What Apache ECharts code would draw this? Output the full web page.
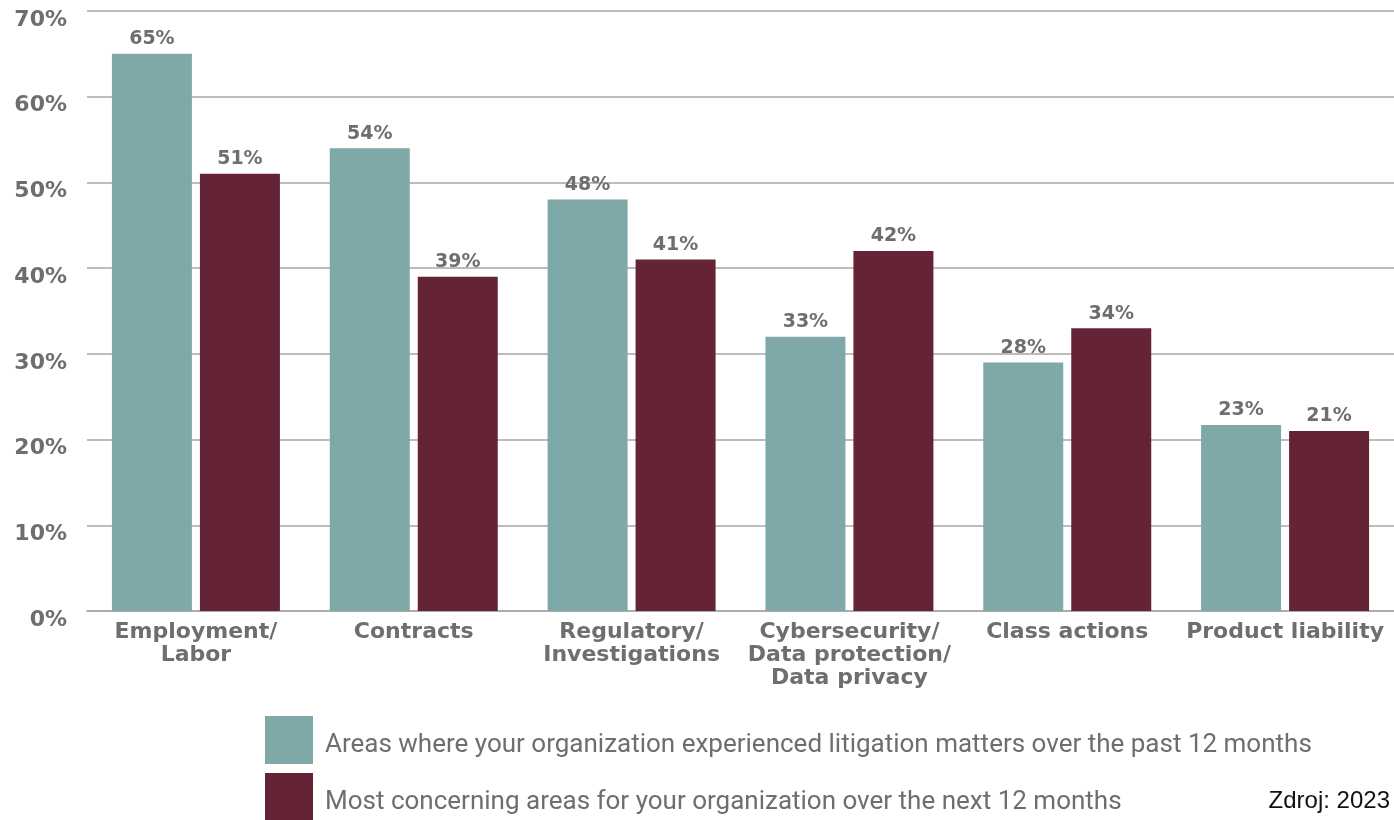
<!DOCTYPE html>
<html>
<head>
<meta charset="utf-8">
<script src="https://cdn.jsdelivr.net/npm/echarts@6/dist/echarts.min.js"></script>
<style>
html,body{margin:0;padding:0;background:#fff;}
#chart{width:1394px;height:820px;}
</style>
</head>
<body>
<div id="chart"></div>
<script>
const categories = ["Employment/\nLabor", "Contracts", "Regulatory/\nInvestigations", "Cybersecurity/\nData protection/\nData privacy", "Class actions", "Product liability"];
const seriesNames = ["Areas where your organization experienced litigation matters over the past 12 months", "Most concerning areas for your organization over the next 12 months"];
// bar heights as drawn in the picture
const pastValues = [65, 54, 48, 32, 29, 21.7];
const nextValues = [51, 39, 41, 42, 33, 21];
// printed data labels
const pastLabels = ["65%", "54%", "48%", "33%", "28%", "23%"];
const nextLabels = ["51%", "39%", "41%", "42%", "34%", "21%"];
const yTicks = [0, 10, 20, 30, 40, 50, 60, 70];
const sourceText = "Zdroj: 2023";

const textGrey = '#6e6e6e';
const boldFont = '"DejaVu Sans"';
const colors = ['#7fa9a8', '#652336'];
const chart = echarts.init(document.getElementById('chart'));
const labelStyle = (labels) => ({
  show: true,
  position: 'top',
  distance: 5,
  color: textGrey,
  fontFamily: boldFont,
  fontWeight: 'bold',
  fontSize: 19,
  formatter: p => labels[p.dataIndex]
});
const legendText = {
  color: textGrey,
  fontFamily: 'Roboto',
  fontSize: 26,
  rich: {
    t: {
      color: textGrey,
      fontFamily: 'Roboto',
      fontSize: 26,
      padding: [10, 0, 0, 7]
    }
  }
};
const legendFormatter = name => '{t|' + name + '}';
chart.setOption({
  animation: false,
  grid: {left: 87, right: -3, top: 11, bottom: 209, containLabel: false},
  xAxis: {
    type: 'category',
    data: categories,
    axisLine: {lineStyle: {color: '#a6a6a6', width: 1.5}},
    axisTick: {show: false},
    axisLabel: {
      margin: 10,
      color: textGrey,
      fontFamily: boldFont,
      fontWeight: 'bold',
      fontSize: 22,
      lineHeight: 23,
      interval: 0
    }
  },
  yAxis: {
    type: 'value',
    min: yTicks[0],
    max: yTicks[yTicks.length - 1],
    interval: 10,
    axisLine: {show: false},
    axisTick: {show: false},
    splitLine: {lineStyle: {color: '#a6a6a6', width: 1.5}},
    axisLabel: {
      margin: 20,
      verticalAlign: 'top',
      lineHeight: 18,
      color: textGrey,
      fontFamily: boldFont,
      fontWeight: 'bold',
      fontSize: 22,
      formatter: v => v + '%'
    }
  },
  legend: [
    {
      left: 265, top: 716, padding: 0,
      itemWidth: 48, itemHeight: 48,
      icon: 'rect',
      data: [seriesNames[0]],
      formatter: legendFormatter,
      textStyle: legendText
    },
    {
      left: 265, top: 773, padding: 0,
      itemWidth: 48, itemHeight: 48,
      icon: 'rect',
      data: [seriesNames[1]],
      formatter: legendFormatter,
      textStyle: legendText
    }
  ],
  graphic: [{
    type: 'text',
    right: 4,
    top: 789,
    style: {text: sourceText, fill: '#111', font: '24px "Liberation Sans"'}
  }],
  series: [
    {
      name: seriesNames[0],
      type: 'bar',
      data: pastValues,
      barWidth: 80,
      barGap: '10%',
      itemStyle: {color: colors[0]},
      label: labelStyle(pastLabels)
    },
    {
      name: seriesNames[1],
      type: 'bar',
      data: nextValues,
      barWidth: 80,
      barGap: '10%',
      itemStyle: {color: colors[1]},
      label: labelStyle(nextLabels)
    }
  ]
});
</script>
</body>
</html>
